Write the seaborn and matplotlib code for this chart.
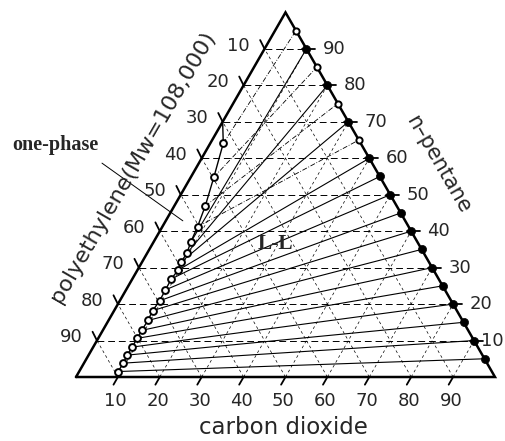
import numpy as np
import pandas as pd
import matplotlib
matplotlib.use("Agg")
import matplotlib.pyplot as plt
import seaborn as sns

# Polymer-rich phase (open circles): n-pentane and CO2 mass fractions
pe_rich_pentane = [0.641, 0.548, 0.469, 0.412, 0.369, 0.339, 0.315, 0.293, 0.269, 0.239,
                   0.209, 0.182, 0.155, 0.128, 0.106, 0.082, 0.060, 0.038, 0.015]
pe_rich_co2 = [0.031, 0.055, 0.074, 0.084, 0.089, 0.095, 0.093, 0.097, 0.093, 0.094,
               0.095, 0.092, 0.094, 0.093, 0.093, 0.093, 0.092, 0.094, 0.093]
# Start of the phase boundary on the polyethylene / n-pentane edge
boundary_start_pentane = 0.70
boundary_start_co2 = 0.0

# Solvent-rich phase on the n-pentane / CO2 edge (no polymer)
solvent_open_pentane = [0.95, 0.85, 0.75, 0.65]
solvent_filled_pentane = [0.90, 0.80, 0.70, 0.60, 0.55, 0.50, 0.45, 0.40, 0.35,
                          0.30, 0.25, 0.20, 0.15, 0.10, 0.05]

tick_values = [10, 20, 30, 40, 50, 60, 70, 80, 90]

S3 = np.sqrt(3) / 2


def to_xy(pentane, co2):
    p = np.asarray(pentane, dtype=float)
    c = np.asarray(co2, dtype=float)
    return c + p / 2, p * S3


sns.set_style("white")
plt.rcParams["font.family"] = ["DejaVu Sans"]

fig = plt.figure(figsize=(5.05, 4.41), dpi=100)
ax = fig.add_axes([0, 0, 1, 1])
ax.set_xlim(-0.1814, 1.0239)
ax.set_ylim(-0.152, 0.8955)
ax.axis("off")

# dashed composition grid
for v in np.array(tick_values) / 100:
    ax.plot([v / 2, 1 - v / 2], [v * S3, v * S3], color="black", lw=0.7,
            dashes=(7, 4), zorder=1)
    ax.plot([v, v + (1 - v) / 2], [0, (1 - v) * S3], color="black", lw=0.5,
            dashes=(4, 4), zorder=1)
    ax.plot([1 - v, (1 - v) / 2], [0, (1 - v) * S3], color="black", lw=0.5,
            dashes=(4, 4), zorder=1)

# triangle frame
ax.plot([0, 1, 0.5, 0], [0, 0, S3, 0], color="black", lw=1.8, zorder=3,
        solid_joinstyle="miter")

# tie lines
lx, ly = to_xy(pe_rich_pentane, pe_rich_co2)
n_open = len(solvent_open_pentane)
ox, oy = to_xy(solvent_open_pentane, 1 - np.array(solvent_open_pentane))
fx, fy = to_xy(solvent_filled_pentane, 1 - np.array(solvent_filled_pentane))

rows = []
for i in range(n_open):
    rows += [dict(tie=i, x=lx[i], y=ly[i]), dict(tie=i, x=ox[i], y=oy[i])]
upper = pd.DataFrame(rows)
rows = []
for j in range(len(solvent_filled_pentane)):
    k = n_open + j
    rows += [dict(tie=k, x=lx[k], y=ly[k]), dict(tie=k, x=fx[j], y=fy[j])]
lower = pd.DataFrame(rows)

sns.lineplot(data=upper, x="x", y="y", units="tie", estimator=None, sort=False,
             color="black", lw=0.6, linestyle=(0, (6, 2, 1, 2)), ax=ax, zorder=2)
sns.lineplot(data=lower, x="x", y="y", units="tie", estimator=None, sort=False,
             color="black", lw=0.8, ax=ax, zorder=2)

# phase boundary through the polymer-rich points
bx, by = to_xy([boundary_start_pentane] + pe_rich_pentane,
               [boundary_start_co2] + pe_rich_co2)
boundary = pd.DataFrame({"x": bx, "y": by})
sns.lineplot(data=boundary, x="x", y="y", sort=False, estimator=None,
             color="black", lw=1.0, ax=ax, zorder=3)

sns.scatterplot(x=lx, y=ly, marker="o", s=24, facecolor="white",
                edgecolor="black", linewidth=1.4, ax=ax, zorder=4)
sns.scatterplot(x=ox, y=oy, marker="o", s=20, facecolor="white",
                edgecolor="black", linewidth=1.4, ax=ax, zorder=4)
sns.scatterplot(x=fx, y=fy, marker="o", s=34, color="black",
                edgecolor="black", linewidth=0.5, ax=ax, zorder=4)

# ticks and tick labels
tl = 0.021
for t in tick_values:
    v = t / 100
    # polyethylene (left edge)
    x0, y0 = (1 - v) / 2, (1 - v) * S3
    ax.plot([x0, x0 - 0.5 * tl], [y0, y0 + S3 * tl * 1.15], color="black", lw=1.3, zorder=3)
    ax.text(x0 - 0.062, y0 + 0.008, str(t), fontsize=13, ha="center", va="center")
    # n-pentane (right edge)
    x0, y0 = 1 - v / 2, v * S3
    ax.plot([x0 - 0.01, x0 + tl], [y0, y0], color="black", lw=1.3, zorder=3)
    lx0 = x0 + 0.066 if t > 10 else x0 + 0.043
    ax.text(lx0, y0, str(t), fontsize=13, ha="center", va="center")
    # carbon dioxide (bottom edge)
    x0, y0 = v, 0
    ax.plot([x0, x0 - 0.5 * tl], [y0, -S3 * tl], color="black", lw=1.3, zorder=3)
    ax.text(x0 - 0.005, -0.056, str(t), fontsize=13, ha="center", va="center")

# axis titles
ax.text(0.496, -0.121, "carbon dioxide", fontsize=16.5, ha="center", va="center")
ax.text(0.136, 0.499, "polyethylene(Mw=108,000)", fontsize=16, rotation=60,
        ha="center", va="center", rotation_mode="anchor")
ax.text(0.864, 0.504, "n–pentane", fontsize=15, rotation=-60,
        ha="center", va="center", rotation_mode="anchor")

# region labels
ax.text(-0.05, 0.551, "one-phase", fontsize=14.5, fontweight="bold",
        family="Liberation Serif", ha="center", va="center")
ax.plot([0.062, 0.255], [0.508, 0.371], color="black", lw=0.7, zorder=2)
ax.text(0.475, 0.316, "L-L", fontsize=15.5, fontweight="bold",
        family="Liberation Serif", ha="center", va="center")

fig.savefig("out.png", dpi=100)
